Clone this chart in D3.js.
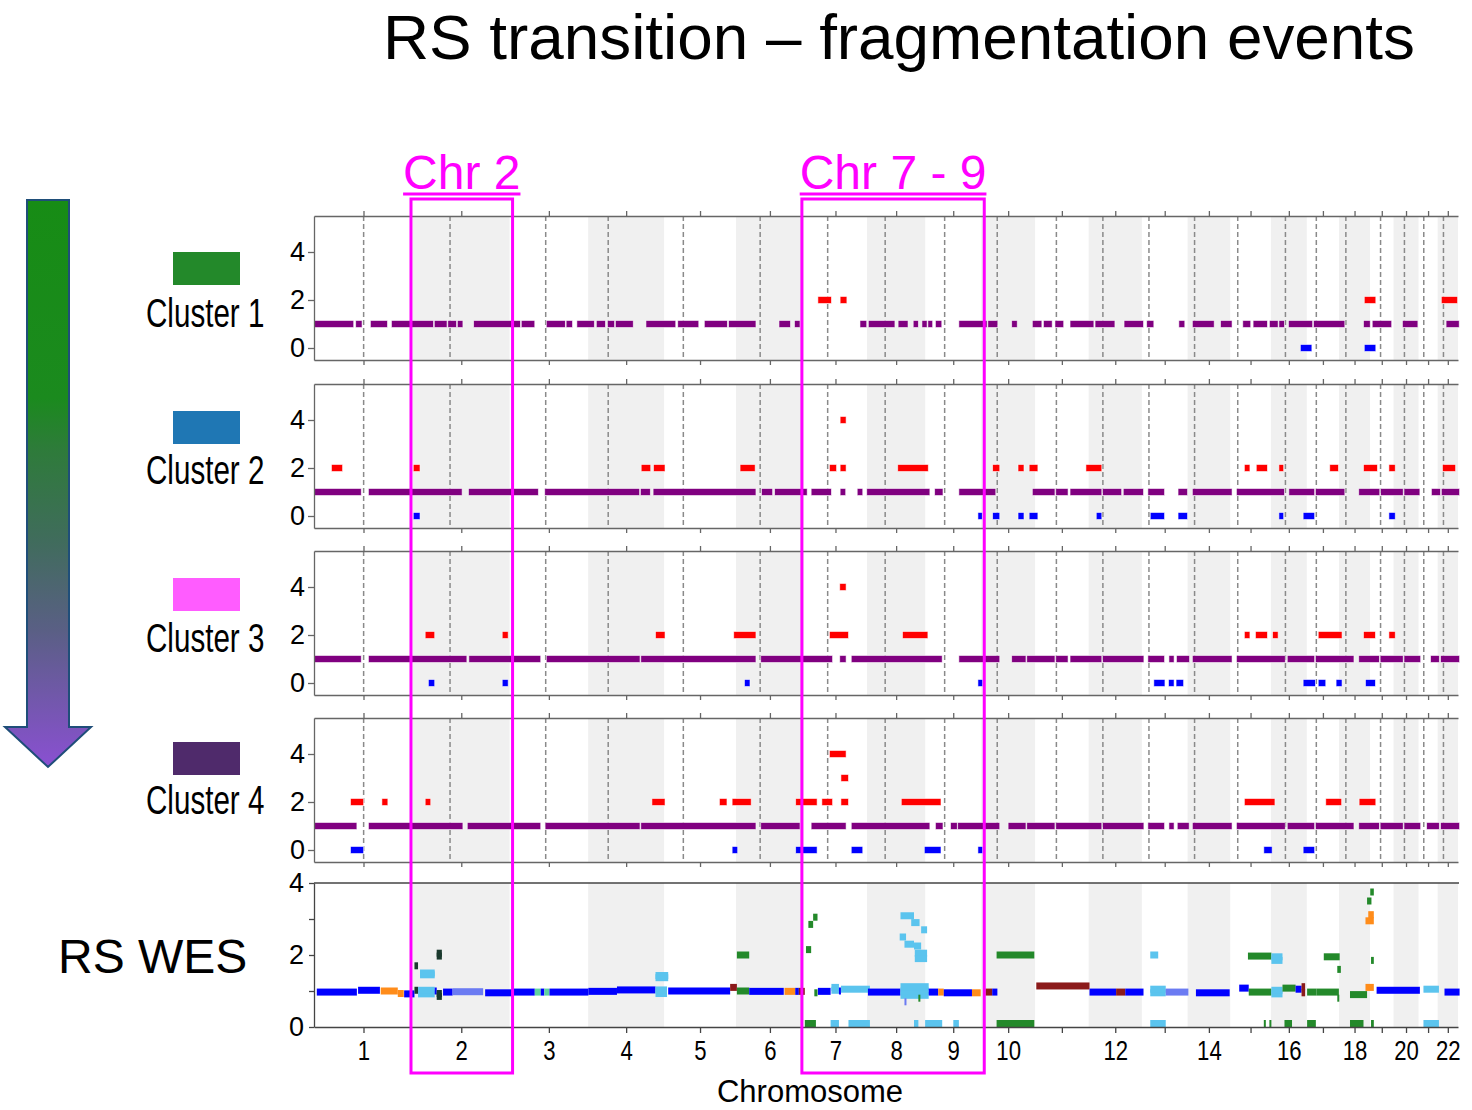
<!DOCTYPE html>
<html lang='en'>
<head>
	<meta charset='UTF-8'/>
	<title>RS transition – fragmentation events</title>
	<script src='https://cdnjs.cloudflare.com/ajax/libs/d3/7.8.5/d3.min.js'></script>
	<style>
		body {margin: 0; background: #fff;}
		svg {display: block; font-family: 'Liberation Sans', Arial, sans-serif;}
	</style>
</head>
<body>
<div class='graph'></div>
<script>
// chromosome sizes and centromere positions (Mb)
const chromNames = ['1','2','3','4','5','6','7','8','9','10','11','12','13','14','15','16','17','18','19','20','21','22'];
const chromLengths = [249.3, 243.2, 198.0, 191.2, 180.9, 171.1, 159.1, 146.4, 141.2, 135.5, 135.0, 133.9, 115.2, 107.3, 102.5, 90.4, 81.2, 78.1, 59.1, 63.0, 48.1, 51.3];
const centromeres = [125.0, 93.3, 91.0, 50.4, 48.4, 61.0, 59.9, 45.6, 49.0, 40.2, 53.7, 35.8, 17.9, 17.6, 19.0, 36.6, 24.0, 17.2, 26.5, 27.5, 13.2, 14.7];
const xTickLabels = ['1','2','3','4','5','6','7','8','9','10','','12','','14','','16','','18','','20','','22'];

const clusterNames = ['Cluster 1', 'Cluster 2', 'Cluster 3', 'Cluster 4'];
const clusterColors = ['#23892a', '#1f77b4', '#ff5cff', '#4f2a6b'];

// highlighted regions (chromosome index ranges)
const highlights = [
	{label: 'Chr 2', from: 1, to: 1},
	{label: 'Chr 7 - 9', from: 6, to: 8}
];

// cluster segments: [genome start Mb, genome end Mb, copy number]
const cluster1Segments = [
	[0,100,1],[105,121,1],[142,185,1],[195,301,1],[303,335,1],[337,359,1],[361,375,1],[402,499,1],[500,520,1],[522,556,1],
	[585,633,1],[635,651,1],[662,706,1],[711,734,1],[739,757,1],[759,804,1],[836,911,1],[916,969,1],[983,1041,1],[1044,1113,1],
	[1171,1200,1],[1210,1224,1],[1375,1392,1],[1396,1463,1],[1471,1496,1],[1509,1522,1],[1531,1544,1],[1546,1558,1],[1565,1581,1],
	[1624,1695,1],[1697,1722,1],[1757,1771,1],[1809,1833,1],[1837,1859,1],[1866,1888,1],[1904,1964,1],[1967,2017,1],[2040,2089,1],
	[2097,2115,1],[2178,2193,1],[2212,2267,1],[2283,2312,1],[2339,2359,1],[2365,2401,1],[2406,2428,1],[2430,2444,1],[2454,2515,1],
	[2517,2596,1],[2643,2660,1],[2665,2714,1],[2741,2780,1],[2851,2884,1],
	[1269,1303,2],[1325,1342,2],[2645,2674,2],[2839,2880,2],
	[2484,2513,0],[2645,2674,0]
];
const cluster2Segments = [
	[0,119,1],[137,373,1],[389,565,1],[581,820,1],[822,847,1],[854,1113,1],[1127,1155,1],[1160,1242,1],[1252,1303,1],[1325,1339,1],
	[1368,1382,1],[1392,1551,1],[1563,1584,1],[1624,1717,1],[1809,1866,1],[1868,1899,1],[1904,1984,1],[1986,2034,1],[2038,2089,1],
	[2100,2142,1],[2176,2200,1],[2212,2312,1],[2323,2444,1],[2455,2520,1],[2522,2596,1],[2631,2684,1],[2686,2743,1],[2745,2785,1],
	[2814,2837,1],[2839,2885,1],
	[44,72,2],[250,267,2],[824,848,2],[855,884,2],[1073,1111,2],[1298,1316,2],[1325,1340,2],[1470,1547,2],[1709,1727,2],[1773,1788,2],
	[1801,1823,2],[1944,1984,2],[2343,2357,2],[2373,2401,2],[2430,2442,2],[2558,2580,2],[2643,2678,2],[2707,2723,2],[2842,2875,2],
	[1325,1340,4],
	[250,267,0],[1672,1683,0],[1709,1727,0],[1773,1788,0],[1801,1823,0],[1970,1984,0],[2106,2142,0],[2176,2200,0],[2430,2442,0],
	[2491,2520,0],[2707,2723,0]
];
const cluster3Segments = [
	[0,119,1],[137,385,1],[390,571,1],[585,821,1],[823,1113,1],[1125,1306,1],[1324,1340,1],[1353,1582,1],[1624,1727,1],[1757,1793,1],
	[1795,1866,1],[1868,1899,1],[1904,1984,1],[1986,2090,1],[2100,2142,1],[2153,2166,1],[2172,2205,1],[2212,2312,1],[2323,2446,1],
	[2451,2520,1],[2522,2619,1],[2631,2683,1],[2685,2743,1],[2745,2787,1],[2812,2834,1],[2837,2885,1],
	[280,304,2],[474,489,2],[860,884,2],[1057,1113,2],[1298,1346,2],[1482,1546,2],[2343,2357,2],[2371,2401,2],[2414,2428,2],
	[2529,2589,2],[2643,2673,2],[2707,2723,2],
	[1324,1340,4],
	[288,304,0],[474,489,0],[1084,1098,0],[1672,1684,0],[2115,2143,0],[2152,2166,0],[2171,2190,0],[2491,2522,0],[2529,2548,0],
	[2574,2589,0],[2648,2673,0]
];
const cluster4Segments = [
	[0,108,1],[137,375,1],[386,571,1],[582,821,1],[823,1113,1],[1125,1224,1],[1252,1340,1],[1353,1551,1],[1565,1584,1],[1603,1620,1],
	[1621,1727,1],[1748,1793,1],[1795,1866,1],[1868,1984,1],[1986,2090,1],[2100,2142,1],[2153,2166,1],[2174,2204,1],[2212,2312,1],
	[2323,2446,1],[2451,2520,1],[2522,2619,1],[2631,2683,1],[2685,2743,1],[2745,2787,1],[2802,2834,1],[2837,2885,1],
	[92,125,2],[171,186,2],[280,294,2],[851,884,2],[1021,1040,2],[1053,1101,2],[1213,1267,2],[1279,1306,2],[1327,1346,2],[1479,1579,2],
	[2343,2420,2],[2548,2588,2],[2632,2674,2],
	[1327,1346,3],
	[1298,1340,4],
	[92,125,0],[1053,1067,0],[1213,1267,0],[1353,1382,0],[1537,1579,0],[1672,1684,0],[2392,2413,0],[2491,2520,0]
];
const clusterSegments = [cluster1Segments, cluster2Segments, cluster3Segments, cluster4Segments];

// RS WES segments: [genome start Mb, genome end Mb, copy ratio, state]
const wesStates = ['b', 'o', 'l', 'g', 'r', 'd', 'p', 's'];
const wesStateColors = ['#0000ff', '#ff8c1a', '#5bc4ee', '#23892a', '#8b1a1a', '#1b3a2e', '#6b7bf2', '#5fd3a0'];
const wesSegments = [
	[7,108,0.97,'b'],[111,166,1.02,'b'],[168,211,1.0,'o'],[211,226,0.93,'o'],[227,253,0.92,'b'],
	[253,262,1.02,'d'],[262,304,0.92,'l'],[262,304,1.02,'l'],[304,309,1.0,'b'],[309,322,0.85,'d'],[309,322,0.93,'d'],
	[325,349,0.97,'b'],[349,426,0.98,'p'],[431,499,0.95,'b'],
	[309,322,1.97,'d'],[309,322,2.05,'d'],[253,262,1.7,'d'],[267,304,1.45,'l'],[267,304,1.5,'l'],
	[499,556,0.97,'b'],[556,571,0.97,'s'],[571,580,0.97,'b'],[580,593,0.97,'s'],[593,691,0.97,'b'],
	[691,763,0.99,'b'],[763,860,1.03,'b'],[860,889,0.93,'l'],[860,889,1.03,'l'],[860,892,1.37,'l'],[860,892,1.43,'l'],
	[892,1048,1.0,'b'],
	[1048,1065,1.1,'r'],[1065,1096,1.0,'g'],[1096,1183,0.99,'b'],[1185,1212,0.99,'o'],[1212,1221,0.99,'b'],[1221,1236,0.99,'r'],
	[1065,1096,2.0,'g'],
	[1236,1264,0.0,'g'],[1239,1252,2.15,'g'],[1245,1257,2.85,'g'],[1257,1268,3.05,'g'],[1260,1268,0.95,'g'],
	[1269,1301,0.99,'b'],[1303,1322,1.02,'l'],[1303,1322,1.1,'l'],[1322,1327,1.0,'b'],[1327,1400,1.05,'l'],[1395,1477,0.97,'b'],
	[1301,1322,0.0,'l'],[1346,1400,0.0,'l'],
	[1477,1548,0.88,'l'],[1477,1548,1.0,'l'],[1477,1548,1.12,'l'],[1548,1572,0.97,'b'],[1572,1586,0.97,'o'],[1586,1657,0.95,'b'],
	[1657,1679,0.95,'o'],[1691,1708,0.97,'r'],[1708,1721,0.97,'b'],
	[1477,1511,3.09,'l'],[1504,1525,2.9,'l'],[1529,1544,2.7,'l'],[1475,1491,2.5,'l'],[1487,1511,2.3,'l'],[1511,1529,2.25,'l'],
	[1513,1544,2.05,'l'],[1513,1544,1.9,'l'],
	[1539,1582,0.0,'l'],[1511,1522,0.02,'l'],[1610,1624,0.02,'l'],[1487,1491,0.7,'p'],[1522,1527,0.8,'g'],
	[1719,1814,2.0,'g'],[1719,1814,0.0,'g'],
	[1819,1953,1.14,'r'],
	[1953,2020,0.97,'b'],[2020,2043,0.97,'r'],[2043,2089,0.97,'b'],
	[2106,2126,2.0,'l'],[2106,2145,0.95,'l'],[2106,2145,1.05,'l'],[2145,2202,0.97,'p'],[2106,2145,0.0,'l'],
	[2221,2306,0.95,'b'],
	[2330,2354,1.08,'b'],[2354,2411,0.97,'g'],[2352,2411,1.97,'g'],[2411,2439,1.85,'l'],[2411,2439,1.95,'l'],
	[2411,2439,0.92,'l'],[2411,2439,1.02,'l'],[2392,2395,0.0,'g'],[2406,2410,0.0,'g'],
	[2439,2472,1.08,'g'],[2472,2487,1.05,'b'],[2487,2496,0.95,'r'],[2487,2496,1.12,'r'],[2444,2463,0.0,'g'],
	[2501,2525,0.97,'g'],[2501,2523,0.0,'g'],[2525,2581,0.97,'g'],[2543,2583,1.95,'g'],[2577,2586,1.6,'g'],[2577,2581,0.8,'g'],
	[2609,2652,0.9,'g'],[2609,2643,0.0,'g'],[2662,2669,0.0,'g'],[2648,2669,1.1,'o'],[2660,2669,3.75,'g'],[2652,2663,3.5,'g'],
	[2648,2669,2.95,'o'],[2655,2669,3.12,'o'],[2662,2669,1.85,'g'],
	[2676,2785,1.02,'b'],
	[2794,2833,1.05,'l'],[2794,2833,0.0,'l'],
	[2847,2885,0.97,'b']
];

// ---- layout ----
const W = 1472, H = 1110;
const plotLeft = 314, plotRight = 1458;
const panelTops = [216, 384, 551, 718];
const panelH = 144;
const wesTop = 883, wesBottom = 1027;
const legendRectTops = [252, 411, 578, 742];
const legendTextBase = [327, 484, 652, 814];

const svg = d3.select('.graph').append('svg')
	.attr('width', W)
	.attr('height', H);

const chromStart = [];
let acc = 0;
chromLengths.forEach(l => { chromStart.push(acc); acc += l; });
const genomeTotal = acc;
const mids = chromLengths.map((l, i) => chromStart[i] + l / 2);

const x = d3.scaleLinear().domain([0, genomeTotal]).range([plotLeft, plotRight]);

const segColor = cn => cn === 0 ? '#0000ff' : (cn === 1 ? '#800080' : '#ff0000');
const wesColor = d3.scaleOrdinal().domain(wesStates).range(wesStateColors);

function bands(g, top, bottom) {
	g.selectAll('rect.band')
		.data(chromNames.filter((c, i) => i % 2 === 1))
		.enter().append('rect')
		.attr('class', 'band')
		.attr('x', c => x(chromStart[+c - 1]))
		.attr('width', c => x(chromLengths[+c - 1]) - x(0))
		.attr('y', top)
		.attr('height', bottom - top)
		.style('fill', '#f0f0f0');
}

function styleAxis(g, color) {
	g.selectAll('path, line').style('stroke', color).style('stroke-width', 1.3);
	g.selectAll('text').style('fill', '#000').style('font-family', "'Liberation Sans', Arial, sans-serif");
}

// cluster panels
clusterSegments.forEach((segs, k) => {
	const top = panelTops[k], bottom = top + panelH;
	const y = d3.scaleLinear().domain([-0.5, 5.5]).range([bottom, top]);
	const g = svg.append('g');

	bands(g, top, bottom);

	// centromeres
	g.selectAll('line.cen')
		.data(centromeres)
		.enter().append('line')
		.attr('x1', (c, i) => x(chromStart[i] + c))
		.attr('x2', (c, i) => x(chromStart[i] + c))
		.attr('y1', top)
		.attr('y2', bottom)
		.style('stroke', '#8a8a8a')
		.style('stroke-width', 1.5)
		.style('stroke-dasharray', '5,3');

	g.selectAll('rect.seg')
		.data(segs)
		.enter().append('rect')
		.attr('x', d => x(d[0]))
		.attr('width', d => Math.max(3, x(d[1]) - x(d[0])))
		.attr('y', d => y(d[2]) - 3.5)
		.attr('height', 7)
		.style('fill', d => segColor(d[2]))
		.style('stroke', '#fff')
		.style('stroke-width', 0.8)
		.style('stroke-opacity', 0.7);

	const axTop = g.append('g')
		.attr('transform', 'translate(0,' + top + ')')
		.call(d3.axisTop(x).tickValues(mids).tickSize(5).tickSizeOuter(0).tickFormat(''));
	styleAxis(axTop, '#666');
	const axBot = g.append('g')
		.attr('transform', 'translate(0,' + bottom + ')')
		.call(d3.axisBottom(x).tickValues(mids).tickSize(5).tickSizeOuter(0).tickFormat(''));
	styleAxis(axBot, '#666');
	const axL = g.append('g')
		.attr('transform', 'translate(' + plotLeft + ',0)')
		.call(d3.axisLeft(y).tickValues([0, 2, 4]).tickSize(6).tickSizeOuter(0).tickPadding(3).tickFormat(d3.format('d')));
	styleAxis(axL, '#666');
	axL.selectAll('text').style('font-size', '27px');

	// legend
	svg.append('rect')
		.attr('x', 173).attr('y', legendRectTops[k])
		.attr('width', 67).attr('height', 33)
		.style('fill', clusterColors[k]);
	svg.append('text')
		.text(clusterNames[k])
		.attr('transform', 'translate(146,' + legendTextBase[k] + ') scale(0.74,1)')
		.style('font-size', '40px')
		.style('fill', '#000');
});

// RS WES panel
{
	const y = d3.scaleLinear().domain([0, 4]).range([wesBottom, wesTop]);
	const g = svg.append('g');
	bands(g, wesTop, wesBottom);

	g.selectAll('rect.wes')
		.data(wesSegments)
		.enter().append('rect')
		.attr('x', d => x(d[0]))
		.attr('width', d => Math.max(2, x(d[1]) - x(d[0])))
		.attr('y', d => Math.min(y(d[2]) - 3.5, wesBottom - 7))
		.attr('height', 7)
		.style('fill', d => wesColor(d[3]));

	g.append('line')
		.attr('x1', plotLeft).attr('x2', plotRight + 1)
		.attr('y1', wesTop).attr('y2', wesTop)
		.style('stroke', '#444').style('stroke-width', 1.3);

	const axB = g.append('g')
		.attr('transform', 'translate(0,' + wesBottom + ')')
		.call(d3.axisBottom(x).tickValues(mids).tickSize(6).tickSizeOuter(0).tickPadding(8)
			.tickFormat((d, i) => xTickLabels[i]));
	styleAxis(axB, '#444');
	axB.selectAll('text')
		.style('font-size', '27px')
		.each(function () {
			const len = this.getComputedTextLength();
			if (len > 0) d3.select(this).attr('textLength', len * 0.82).attr('lengthAdjust', 'spacingAndGlyphs');
		});

	const axL = g.append('g')
		.attr('transform', 'translate(' + plotLeft + ',0)')
		.call(d3.axisLeft(y).tickValues([0, 1, 2, 3, 4]).tickSize(5).tickSizeOuter(0).tickPadding(5)
			.tickFormat(d => d % 2 === 0 ? d : ''));
	styleAxis(axL, '#444');
	axL.selectAll('text').style('font-size', '27px');

	svg.append('text')
		.text('Chromosome')
		.attr('x', 810)
		.attr('y', 1102)
		.attr('text-anchor', 'middle')
		.style('font-size', '31px');

	svg.append('text')
		.text('RS WES')
		.attr('x', 58)
		.attr('y', 973)
		.style('font-size', '48px');
}

// gradient arrow
const defs = svg.append('defs');
const grad = defs.append('linearGradient')
	.attr('id', 'arrowGrad')
	.attr('x1', 0).attr('y1', 0).attr('x2', 0).attr('y2', 1);
[[0, '#178c15'], [0.35, '#1b8a1e'], [0.44, '#2e7b3a'], [0.6, '#406c5c'], [0.76, '#5a5f85'], [1, '#8a50d2']]
	.forEach(s => grad.append('stop').attr('offset', s[0]).attr('stop-color', s[1]));
svg.append('polygon')
	.attr('points', '27,200 69,200 69,727 91,727 48,767 5,727 27,727')
	.style('fill', 'url(#arrowGrad)')
	.style('stroke', '#1f4e79')
	.style('stroke-width', 2);

// highlight boxes
highlights.forEach(h => {
	const x0 = x(chromStart[h.from]) - 2;
	const x1 = x(chromStart[h.to] + chromLengths[h.to]) + 3;
	svg.append('rect')
		.attr('x', x0).attr('y', 199)
		.attr('width', x1 - x0).attr('height', 1073 - 199)
		.style('fill', 'none')
		.style('stroke', '#ff00ff')
		.style('stroke-width', 3);
	const t = svg.append('text')
		.text(h.label)
		.attr('x', (x0 + x1) / 2)
		.attr('y', 189)
		.attr('text-anchor', 'middle')
		.style('font-size', '48px')
		.style('fill', '#ff00ff');
	const len = t.node().getComputedTextLength();
	svg.append('line')
		.attr('x1', (x0 + x1) / 2 - len / 2).attr('x2', (x0 + x1) / 2 + len / 2)
		.attr('y1', 194).attr('y2', 194)
		.style('stroke', '#ff00ff').style('stroke-width', 3);
});

// title
svg.append('text')
	.text('RS transition – fragmentation events')
	.attr('x', 383)
	.attr('y', 59)
	.style('font-size', '63.8px')
	.style('fill', '#000');
</script>
</body>
</html>
